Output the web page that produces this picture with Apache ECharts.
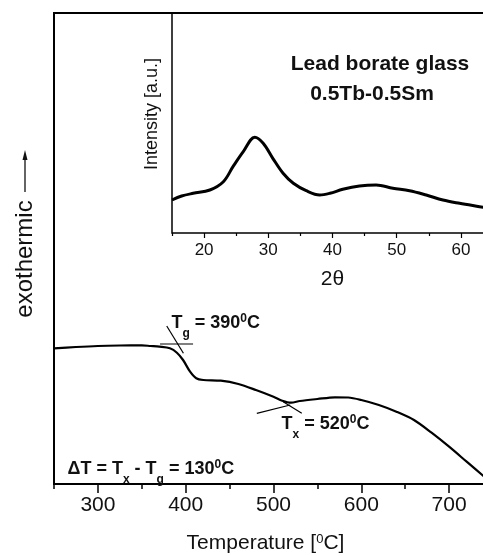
<!DOCTYPE html>
<html>
<head>
<meta charset="utf-8">
<script src="https://cdn.jsdelivr.net/npm/echarts@6/dist/echarts.min.js"></script>
<style>
  html, body { margin: 0; padding: 0; background: #fff; }
  #chart { width: 483px; height: 556px; }
</style>
</head>
<body>
<div id="chart"></div>
<script>
var dom = document.getElementById("chart");
var myChart = echarts.init(dom);

var FONT = 'Liberation Sans, Arial, sans-serif';

// DSC curve (temperature in C, signal in arbitrary units)
var dscTemp = [250, 275, 300, 325, 350, 360, 370, 382, 390, 397, 405, 412, 420, 440, 460, 480, 500, 510, 520, 530, 550, 570, 585, 600, 620, 640, 660, 680, 700, 720, 740, 750];
var dscSignal = [135.7, 137, 138, 138.5, 138.7, 138, 137.3, 135.7, 131.3, 124, 112.3, 105.7, 104, 103.3, 100, 94, 87.3, 83.3, 81.3, 83, 85, 86.7, 86.5, 84, 79, 72.3, 64, 51.3, 37.3, 22.3, 7.3, 0];

// tangent construction lines
var tgBaseT = [370.8, 408.4], tgBaseV = [140, 140];
var tgSlopeT = [378.4, 397.4], tgSlopeV = [158, 130.7];
var txLeftT = [481, 519], txLeftV = [70.7, 79];
var txRightT = [511, 532.2], txRightV = [82.3, 70.7];

// XRD inset
var xrdAngle = [15, 16.5, 18.3, 20.9, 23, 24.5, 26.1, 27.9, 29.2, 30.7, 32.3, 33.9, 35.9, 38, 39.6, 41.6, 44.2, 46.8, 49.4, 52, 54.6, 57.2, 59.8, 62.9, 65];
var xrdIntensity = [33, 37, 39.7, 43, 51.3, 66.3, 81.3, 95.7, 89.7, 74.7, 59.7, 49.7, 42.3, 38, 39.7, 43.7, 47, 48, 44.7, 42.3, 38, 33, 29.7, 26.3, 24];

// tick labels
var tempTicks = [300, 400, 500, 600, 700];
var tempMinorTicks = [250, 350, 450, 550, 650, 750];
var angleTicks = [20, 30, 40, 50, 60];
var angleMinorTicks = [15, 25, 35, 45, 55, 65];

function pairs(xs, ys) {
    return xs.map(function (x, i) { return [x, ys[i]]; });
}

function tangent(xs, ys) {
    return {
        type: 'line', xAxisIndex: 0, yAxisIndex: 0,
        data: pairs(xs, ys), symbol: 'none', silent: true,
        lineStyle: { color: '#000', width: 1.2 }
    };
}

// token 'height' with verticalAlign top sets where each piece sits
var annRich = {
    b: { fontFamily: FONT, fontWeight: 'bold', fontSize: 18, fill: '#111', height: 30, lineHeight: 30, verticalAlign: 'top' },
    sub: { fontFamily: FONT, fontWeight: 'bold', fontSize: 12, fill: '#111', height: 51, lineHeight: 51, verticalAlign: 'top' },
    sup: { fontFamily: FONT, fontWeight: 'bold', fontSize: 12, fill: '#111', height: 21, lineHeight: 21, verticalAlign: 'top' }
};

function annotation(x, y, txt) {
    return {
        type: 'text', x: x, y: y, silent: true,
        style: { text: txt, rich: annRich, align: 'left', verticalAlign: 'top' }
    };
}

var option = {
    backgroundColor: '#fff',
    animation: false,
    grid: [
        { left: 54, top: 13, right: -10, bottom: 72, show: true, borderColor: '#000', borderWidth: 2, outerBoundsMode: 'none' },
        { left: 172, top: 13, right: -10, bottom: 323, show: true, borderColor: '#000', borderWidth: 1.5, outerBoundsMode: 'none' }
    ],
    xAxis: [
        {
            gridIndex: 0, type: 'value', min: 250, max: 750,
            axisLine: { show: false },
            axisTick: { length: 9, customValues: tempTicks, lineStyle: { color: '#000', width: 1.5 } },
            axisLabel: { customValues: tempTicks, fontFamily: FONT, fontSize: 21, color: '#111', margin: 11 },
            splitLine: { show: false },
            name: 'Temperature [{sup|0}C]',
            nameLocation: 'middle', nameGap: 49,
            nameTextStyle: {
                fontFamily: FONT, fontSize: 21, color: '#111', padding: [0, 16, 0, 0],
                rich: { sup: { fontFamily: FONT, fontSize: 13, color: '#111', verticalAlign: 'top', lineHeight: 20 } }
            }
        },
        {
            gridIndex: 0, type: 'value', min: 250, max: 750, position: 'bottom',
            axisLine: { show: false },
            axisTick: { length: 5, customValues: tempMinorTicks, lineStyle: { color: '#000', width: 1.5 } },
            axisLabel: { show: false },
            splitLine: { show: false }
        },
        {
            gridIndex: 1, type: 'value', min: 15, max: 65,
            axisLine: { show: false },
            axisTick: { length: 5, customValues: angleTicks, lineStyle: { color: '#000', width: 1.2 } },
            axisLabel: { customValues: angleTicks, fontFamily: FONT, fontSize: 17, color: '#111', margin: 9 },
            splitLine: { show: false },
            name: '2\u03b8',
            nameLocation: 'middle', nameGap: 36,
            nameTextStyle: { fontFamily: FONT, fontSize: 21, color: '#111' }
        },
        {
            gridIndex: 1, type: 'value', min: 15, max: 65, position: 'bottom',
            axisLine: { show: false },
            axisTick: { length: 3, customValues: angleMinorTicks, lineStyle: { color: '#000', width: 1.2 } },
            axisLabel: { show: false },
            splitLine: { show: false }
        }
    ],
    yAxis: [
        {
            gridIndex: 0, type: 'value', min: 0, max: 471,
            axisLine: { show: false }, axisTick: { show: false },
            axisLabel: { show: false }, splitLine: { show: false }
        },
        {
            gridIndex: 1, type: 'value', min: 0, max: 220,
            axisLine: { show: false }, axisTick: { show: false },
            axisLabel: { show: false }, splitLine: { show: false }
        }
    ],
    series: [
        {
            type: 'line', xAxisIndex: 0, yAxisIndex: 0,
            data: pairs(dscTemp, dscSignal), symbol: 'none', smooth: 0.3,
            lineStyle: { color: '#000', width: 2.2 }
        },
        tangent(tgBaseT, tgBaseV),
        tangent(tgSlopeT, tgSlopeV),
        tangent(txLeftT, txLeftV),
        tangent(txRightT, txRightV),
        {
            type: 'line', xAxisIndex: 2, yAxisIndex: 1,
            data: pairs(xrdAngle, xrdIntensity), symbol: 'none', smooth: 0.35,
            lineStyle: { color: '#000', width: 3 }
        }
    ],
    graphic: [
        {
            type: 'text', x: 25, y: 259, rotation: Math.PI / 2, silent: true,
            style: { text: 'exothermic', fontFamily: FONT, fontSize: 24, fill: '#111', align: 'center', verticalAlign: 'middle' }
        },
        {
            type: 'line', silent: true,
            shape: { x1: 25, y1: 192, x2: 25, y2: 156 },
            style: { stroke: '#111', lineWidth: 1.3 }
        },
        {
            type: 'polygon', silent: true,
            shape: { points: [[25, 150], [22.5, 160], [27.5, 160]] },
            style: { fill: '#111' }
        },
        {
            type: 'text', x: 152, y: 114, rotation: Math.PI / 2, silent: true,
            style: { text: 'Intensity [a.u.]', fontFamily: FONT, fontSize: 18, fill: '#111', align: 'center', verticalAlign: 'middle' }
        },
        {
            type: 'text', x: 380, y: 64.5, silent: true,
            style: { text: 'Lead borate glass', fontFamily: FONT, fontWeight: 'bold', fontSize: 21, fill: '#111', align: 'center', verticalAlign: 'middle' }
        },
        {
            type: 'text', x: 372, y: 94.5, silent: true,
            style: { text: '0.5Tb-0.5Sm', fontFamily: FONT, fontWeight: 'bold', fontSize: 21, fill: '#111', align: 'center', verticalAlign: 'middle' }
        },
        annotation(171.5, 307.7, '{b|T}{sub|g}{b| = 390}{sup|0}{b|C}'),
        annotation(281.5, 408.7, '{b|T}{sub|x}{b| = 520}{sup|0}{b|C}'),
        annotation(67.5, 453.7, '{b|\u0394T = T}{sub|x}{b| - T}{sub|g}{b| = 130}{sup|0}{b|C}')
    ]
};

if (option && typeof option === 'object') {
    myChart.setOption(option);
}
</script>
</body>
</html>
